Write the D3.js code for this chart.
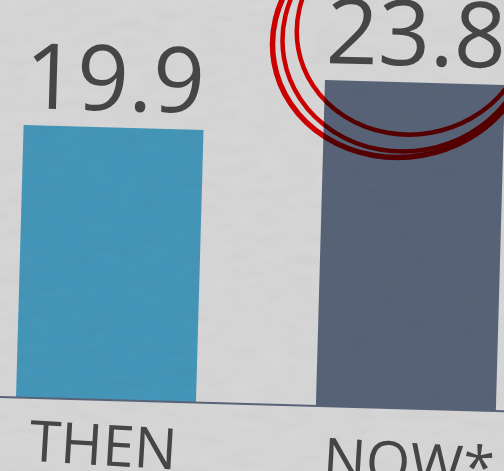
<!DOCTYPE html>
<html>
<head>
<meta charset="utf-8">
<script src="https://cdn.jsdelivr.net/npm/d3@7"></script>
<style>
  html, body { margin: 0; padding: 0; background: #d7d7d7; }
  svg { display: block; }
</style>
</head>
<body>
<div id="chart"></div>
<script>
// data
const categories = ["THEN", "NOW*"];
const values = [19.9, 23.8];
const valueLabels = ["19.9", "23.8"];
const barColors = ["#4596b9", "#586377"];
const highlighted = "NOW*";

const COLORS = {
    paper: "#d7d7d7",
    ink: "#464646",
    axis: "#5a6478",
    marker: "#f50000"
};

const width = 504, height = 471;

const svg = d3.select("#chart").append("svg")
    .attr("width", width).attr("height", height);

// paper grain
const defs = svg.append("defs");
const grain = defs.append("filter").attr("id", "grain").attr("x", 0).attr("y", 0).attr("width", "100%").attr("height", "100%");
grain.append("feTurbulence").attr("type", "fractalNoise").attr("baseFrequency", "0.035 0.09").attr("numOctaves", 3).attr("seed", 4);
grain.append("feColorMatrix").attr("type", "saturate").attr("values", 0);

svg.append("rect").attr("width", width).attr("height", height).attr("fill", COLORS.paper);

// the page is photographed at a slight tilt
const chart = svg.append("g").attr("transform", "translate(16,397.5) rotate(1.6)");

const x = d3.scaleBand().domain(categories).range([0, 480]).paddingInner(0.4).paddingOuter(0);
const y = d3.scaleLinear().domain([0, 25]).range([0, -342.5]);

const rows = categories.map((c, i) => ({ cat: c, val: values[i], label: valueLabels[i], color: barColors[i] }));

chart.selectAll("rect.bar").data(rows).join("rect")
    .attr("class", "bar")
    .attr("x", d => x(d.cat))
    .attr("y", d => y(d.val))
    .attr("width", x.bandwidth())
    .attr("height", d => -y(d.val))
    .attr("fill", d => d.color);

// baseline
chart.append("line")
    .attr("x1", -40).attr("x2", 540)
    .attr("y1", 0).attr("y2", 0)
    .attr("stroke", COLORS.axis).attr("stroke-width", 2);

// values above bars
chart.selectAll("text.value").data(rows).join("text")
    .attr("class", "value")
    .attr("x", d => x(d.cat) + x.bandwidth() / 2)
    .attr("y", d => y(d.val) - 17)
    .attr("text-anchor", "middle")
    .attr("font-family", "'Open Sans', sans-serif")
    .attr("font-size", 91)
    .attr("fill", COLORS.ink)
    .text(d => d.label);

// category labels (paper bends a little more down here)
const labels = chart.append("g").attr("transform", "rotate(1.8, 240, 0)");
labels.selectAll("text").data(rows).join("text")
    .attr("x", d => x(d.cat) + x.bandwidth() / 2 + (d.cat === highlighted ? 6 : 0))
    .attr("y", 70)
    .attr("text-anchor", "middle")
    .attr("font-family", "'Open Sans', sans-serif")
    .attr("font-size", 57)
    .attr("fill", COLORS.ink)
    .text(d => d.cat);

// hand drawn loop round the highlighted value
const hx = x(highlighted) + x.bandwidth() / 2 - 14;
const hy = y(values[categories.indexOf(highlighted)]) - 42;
const loops = [
    { dx: 0, dy: 0, rx: 130, ry: 117, w: 5.5 },
    { dx: 4, dy: -3, rx: 124, ry: 114, w: 4.5 },
    { dx: 10, dy: -12, rx: 116, ry: 106, w: 4.5 }
];
chart.append("g")
    .style("mix-blend-mode", "multiply")
    .selectAll("ellipse").data(loops).join("ellipse")
    .attr("transform", d => `translate(${hx + d.dx},${hy + d.dy}) rotate(-11.6)`)
    .attr("rx", d => d.rx).attr("ry", d => d.ry)
    .attr("fill", "none")
    .attr("stroke", COLORS.marker)
    .attr("stroke-width", d => d.w);

// grain on top
svg.append("rect").attr("width", width).attr("height", height)
    .attr("filter", "url(#grain)")
    .attr("opacity", 0.09)
    .style("mix-blend-mode", "multiply");
</script>
</body>
</html>
